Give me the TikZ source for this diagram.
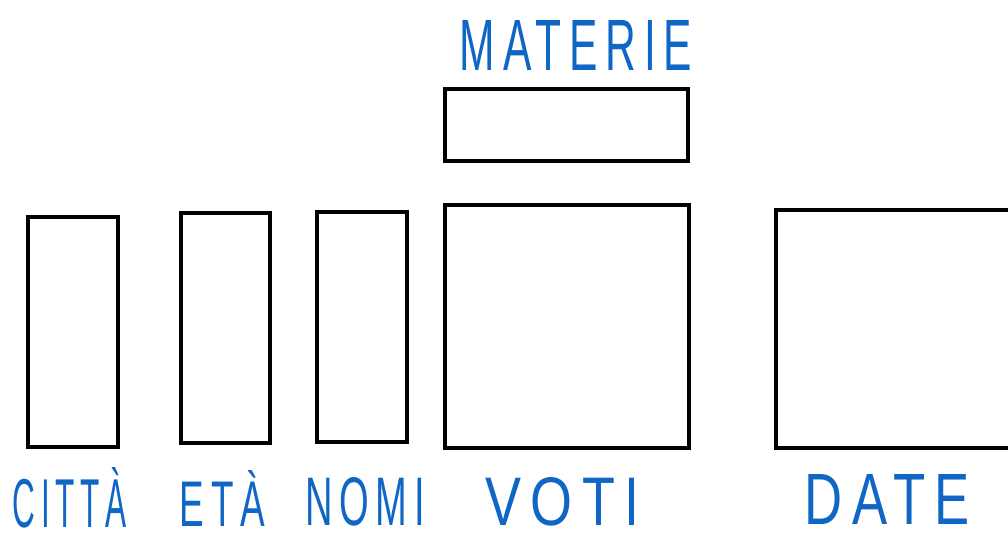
\documentclass[tikz,border=0pt]{standalone}
\usepackage{fontspec}
\setmainfont{Liberation Sans}
\usepackage{graphicx}
\definecolor{ink}{RGB}{16,102,196}
\tikzset{
  box/.style={draw=black, line width=3.4pt, inner sep=0pt, fill=none},
  lbl/.style={text=ink, inner sep=0pt, anchor=center},
}
\newcommand{\hand}[3]{\resizebox{#1pt}{#2pt}{\addfontfeature{LetterSpace=18}#3}}
\begin{document}
\begin{tikzpicture}[x=1pt,y=-1pt]
\useasboundingbox (0,0) rectangle (1008,541);
\fill[white] (0,0) rectangle (1008,541);
\begin{scope}
\clip (0,0) rectangle (1008,541);
% boxes
\node[box, minimum width=90pt, minimum height=230pt] (citta) at (73,332) {};
\node[box, minimum width=89pt, minimum height=230pt] (eta) at (225.5,328) {};
\node[box, minimum width=90pt, minimum height=230pt] (nomi) at (362,327) {};
\node[box, minimum width=244pt, minimum height=243pt] (voti) at (567,326.5) {};
\node[box, minimum width=243pt, minimum height=72pt] (materie) at (566.5,125) {};
\node[box, minimum width=239pt, minimum height=238pt] (date) at (895.5,329) {};
\end{scope}
% labels
\node[lbl] (lmaterie) at (576,45) {\hand{232}{50}{MATERIE}};
\node[lbl] (lcitta) at (70,498) {\hand{114}{60}{CITTÀ}};
\node[lbl] (leta) at (222.5,498) {\hand{85}{56}{ETÀ}};
\node[lbl] (lnomi) at (365,502) {\hand{120}{48}{NOMI}};
\node[lbl] (lvoti) at (562.5,502) {\hand{155}{48}{VOTI}};
\node[lbl] (ldate) at (887.5,499) {\hand{165}{50}{DATE}};
\end{tikzpicture}
\end{document}
